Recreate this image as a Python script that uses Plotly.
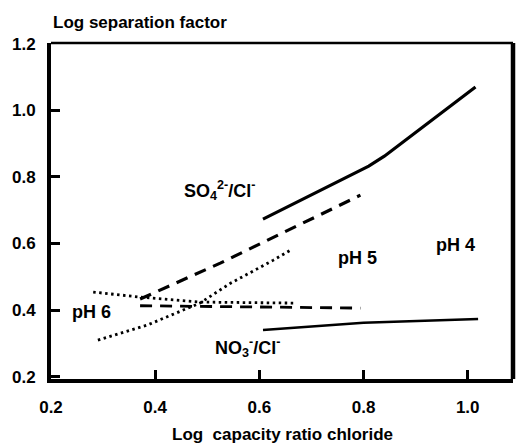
import plotly.graph_objects as go

# ---- data ----
so4_ph4_x = [0.607, 0.711, 0.81, 0.84, 0.914, 1.015]
so4_ph4_y = [0.673, 0.754, 0.832, 0.862, 0.95, 1.07]

no3_ph4_x = [0.607, 0.80, 1.02]
no3_ph4_y = [0.340, 0.362, 0.373]

so4_ph5_x = [0.371, 0.525, 0.794]
so4_ph5_y = [0.433, 0.541, 0.745]

no3_ph5_x = [0.371, 0.698, 0.794]
no3_ph5_y = [0.413, 0.406, 0.406]

so4_ph6_x = [0.290, 0.385, 0.486, 0.544, 0.627, 0.663]
so4_ph6_y = [0.310, 0.355, 0.421, 0.480, 0.550, 0.583]

no3_ph6_x = [0.281, 0.371, 0.486, 0.665]
no3_ph6_y = [0.454, 0.439, 0.424, 0.421]

x_ticks = [0.2, 0.4, 0.6, 0.8, 1.0]
x_ticktext = ["0.2", "0.4", "0.6", "0.8", "1.0"]
y_ticks = [0.2, 0.4, 0.6, 0.8, 1.0, 1.2]
y_ticktext = ["0.2", "0.4", "0.6", "0.8", "1.0", "1.2"]

labels_text = ["SO<sub>4</sub><sup>2-</sup>/Cl<sup>-</sup>", "pH 5", "pH 4", "pH 6",
               "NO<sub>3</sub><sup>-</sup>/Cl<sup>-</sup>"]
labels_x = [0.523, 0.788, 0.976, 0.277, 0.577]
labels_y = [0.760, 0.556, 0.595, 0.394, 0.289]

FONT = "Liberation Sans, Arial, sans-serif"

fig = go.Figure()

def add(x, y, width, dash):
    fig.add_trace(go.Scatter(x=x, y=y, mode="lines",
                             line=dict(color="black", width=width, dash=dash),
                             hoverinfo="skip", showlegend=False))

add(so4_ph4_x, so4_ph4_y, 3.2, "solid")
add(no3_ph4_x, no3_ph4_y, 2.6, "solid")
add(so4_ph5_x, so4_ph5_y, 3.2, "12px,8px")
add(no3_ph5_x, no3_ph5_y, 2.8, "12px,8px")
add(so4_ph6_x, so4_ph6_y, 2.8, "2.5px,3.5px")
add(no3_ph6_x, no3_ph6_y, 2.8, "2.5px,3.5px")

for t, x, y in zip(labels_text, labels_x, labels_y):
    fig.add_annotation(x=x, y=y, xref="x", yref="y", text=t, showarrow=False,
                       font=dict(family=FONT, size=18, color="black", weight="bold"))

fig.add_annotation(x=0.0, y=1.0625, xref="paper", yref="paper",
                   text="Log separation factor", showarrow=False,
                   xanchor="left", yanchor="middle",
                   font=dict(family=FONT, size=17, color="black", weight="bold"))
fig.add_annotation(x=0.5, y=-0.164, xref="paper", yref="paper",
                   text="Log  capacity ratio chloride", showarrow=False,
                   xanchor="center", yanchor="middle",
                   font=dict(family=FONT, size=17, color="black", weight="bold"))

# top and right frame lines
fig.add_shape(type="line", xref="paper", yref="paper", x0=0, x1=1, y0=1, y1=1,
              line=dict(color="black", width=2.5))
fig.add_shape(type="line", xref="paper", yref="paper", x0=1, x1=1, y0=0, y1=1,
              line=dict(color="black", width=4.5))

fig.update_xaxes(range=[0.2, 1.087], tickvals=x_ticks, ticktext=x_ticktext,
                 ticks="inside", ticklen=9, tickwidth=3, tickcolor="black",
                 showline=True, linewidth=4, linecolor="black",
                 showgrid=False, zeroline=False, ticklabelstandoff=10,
                 tickfont=dict(family=FONT, size=17, color="black", weight="bold"))
fig.update_yaxes(range=[0.193, 1.202], tickvals=y_ticks, ticktext=y_ticktext,
                 ticks="inside", ticklen=9, tickwidth=3, tickcolor="black",
                 showline=True, linewidth=4, linecolor="black",
                 showgrid=False, zeroline=False, ticklabelstandoff=8,
                 tickfont=dict(family=FONT, size=17, color="black", weight="bold"))

fig.update_layout(width=519, height=443,
                  margin=dict(l=51, r=6, t=43, b=64),
                  paper_bgcolor="white", plot_bgcolor="white")

fig.write_html("out.html")
